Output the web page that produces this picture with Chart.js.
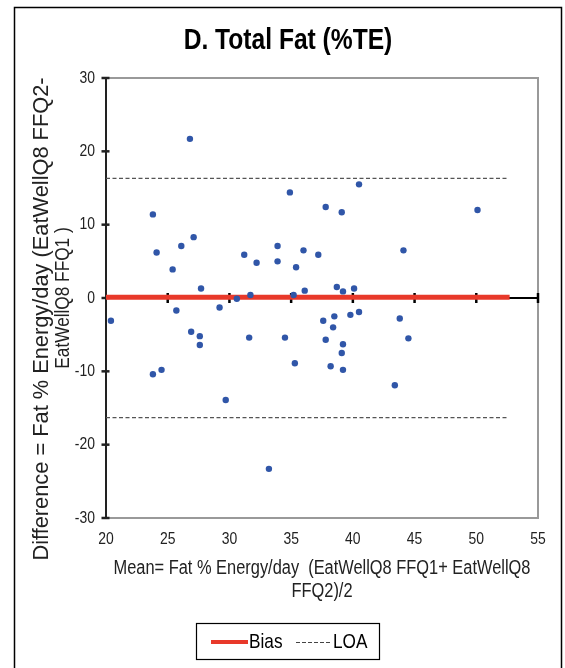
<!DOCTYPE html>
<html>
<head>
<meta charset="utf-8">
<script src="https://cdn.jsdelivr.net/npm/chart.js@4.4.1/dist/chart.umd.min.js"></script>
<style>
  html, body { margin: 0; padding: 0; background: #fff; }
  canvas { display: block; }
</style>
</head>
<body>
<canvas id="chart" width="565" height="668"></canvas>
<script>
// Bland-Altman data
const meanValues = [
  26.8, 23.8, 24.1, 25.4, 26.1, 27.1, 27.7, 30.6, 31.2, 31.7,
  32.2, 33.9, 33.9, 34.9, 35.2, 35.4, 36.0, 36.1, 37.2, 37.8,
  40.5, 39.1, 50.1, 44.1, 38.7, 39.2, 40.1,
  20.4, 25.7, 29.2, 26.9, 27.6, 27.6, 31.6, 34.5, 35.3, 23.8,
  24.5, 29.7, 33.2, 37.6, 37.8, 38.5, 38.4, 39.2, 39.1, 38.2,
  39.2, 39.8, 40.5, 43.8, 44.5, 43.4
];
const diffValues = [
  21.7, 11.4, 6.2, 3.9, 7.1, 8.3, 1.3, -0.1, 5.9, 0.4,
  4.8, 7.1, 5.0, 14.4, 0.4, 4.2, 6.5, 1.0, 5.9, 12.4,
  15.5, 11.7, 12.0, 6.5, 1.5, 0.9, 1.3,
  -3.1, -1.7, -1.3, -4.6, -5.2, -6.4, -5.4, -5.4, -8.9, -10.4,
  -9.8, -13.9, -23.3, -3.1, -5.7, -2.5, -4.0, -6.3, -7.5, -9.3,
  -9.8, -2.3, -1.9, -2.8, -5.5, -11.9
];
const biasValue = 0.1;
const loaUpper = 16.3;
const loaLower = -16.3;
const lineStartX = 20;
const biasEndX = 52.7;
const loaEndX = 52.6;
const xTicks = [20, 25, 30, 35, 40, 45, 50, 55];
const yTicks = [30, 20, 10, 0, -10, -20, -30];

const titleText = 'D. Total Fat (%TE)';
const xTitle = ['Mean= Fat % Energy/day  (EatWellQ8 FFQ1+ EatWellQ8', 'FFQ2)/2'];
const yTitle = ['Difference = Fat % Energy/day (EatWellQ8 FFQ2-', 'EatWellQ8 FFQ1 )'];

const FONT = '"Liberation Sans", Arial, sans-serif';
const NARROW = 0.82; // no Arial Narrow installed, squeeze Liberation Sans instead

// text squeezed along its baseline
function narrowText(ctx, text, x, y, squeeze) {
  ctx.save();
  ctx.translate(x, y);
  ctx.scale(squeeze, 1);
  ctx.fillText(text, 0, 0);
  ctx.restore();
}

// draws frame, axes, tick labels, titles and legend around the plot
const decorations = {
  id: 'decorations',
  beforeDatasetsDraw(chart) {
    const ctx = chart.ctx;
    const area = chart.chartArea;
    const xs = chart.scales.x;
    const ys = chart.scales.y;
    ctx.save();

    // outer figure border
    ctx.strokeStyle = '#000';
    ctx.lineWidth = 1.5;
    ctx.strokeRect(14.5, 7.5, 547, 700);

    // plot frame (top, right, bottom) in grey
    ctx.strokeStyle = '#999';
    ctx.lineWidth = 2;
    ctx.beginPath();
    ctx.moveTo(area.left, area.top);
    ctx.lineTo(area.right, area.top);
    ctx.lineTo(area.right, area.bottom);
    ctx.lineTo(area.left, area.bottom);
    ctx.stroke();

    // y axis
    ctx.strokeStyle = '#222';
    ctx.lineWidth = 2;
    ctx.beginPath();
    ctx.moveTo(area.left, area.top);
    ctx.lineTo(area.left, area.bottom);
    ctx.stroke();
    ctx.lineWidth = 2.5;
    yTicks.forEach(v => {
      const py = ys.getPixelForValue(v);
      ctx.beginPath();
      ctx.moveTo(area.left - 4.5, py);
      ctx.lineTo(area.left + 3.5, py);
      ctx.stroke();
    });

    // x axis crossing at zero
    const y0 = ys.getPixelForValue(0);
    ctx.strokeStyle = '#000';
    ctx.lineWidth = 2;
    ctx.beginPath();
    ctx.moveTo(area.left, y0);
    ctx.lineTo(area.right, y0);
    ctx.stroke();
    ctx.lineWidth = 2.5;
    xTicks.slice(1).forEach(v => {
      const px = xs.getPixelForValue(v);
      ctx.beginPath();
      ctx.moveTo(px, y0 - 5);
      ctx.lineTo(px, y0 + 5);
      ctx.stroke();
    });

    // tick labels
    ctx.fillStyle = '#222';
    ctx.font = '17px ' + FONT;
    ctx.textAlign = 'right';
    ctx.textBaseline = 'middle';
    yTicks.forEach(v => {
      narrowText(ctx, String(v), area.left - 11, ys.getPixelForValue(v), NARROW);
    });
    ctx.textAlign = 'center';
    xTicks.forEach(v => {
      narrowText(ctx, String(v), xs.getPixelForValue(v), 539, NARROW);
    });

    // chart title
    ctx.fillStyle = '#000';
    ctx.font = 'bold 30px ' + FONT;
    narrowText(ctx, titleText, 288, 41, NARROW);

    // x axis title
    ctx.fillStyle = '#222';
    ctx.font = '20px ' + FONT;
    narrowText(ctx, xTitle[0], 322, 568, NARROW);
    narrowText(ctx, xTitle[1], 322, 591, NARROW);

    // y axis title, rotated
    ctx.save();
    ctx.rotate(-Math.PI / 2);
    ctx.font = '21.8px ' + FONT;
    narrowText(ctx, yTitle[0], -319, 42, 1);
    ctx.font = '21px ' + FONT;
    narrowText(ctx, yTitle[1], -298, 63, NARROW);
    ctx.restore();

    // legend box
    ctx.strokeStyle = '#000';
    ctx.lineWidth = 1.2;
    ctx.strokeRect(196.5, 623.5, 183, 36);
    ctx.strokeStyle = '#E8392A';
    ctx.lineWidth = 4;
    ctx.beginPath();
    ctx.moveTo(211, 642);
    ctx.lineTo(248, 642);
    ctx.stroke();
    ctx.strokeStyle = '#444';
    ctx.lineWidth = 1;
    ctx.setLineDash([4, 2]);
    ctx.beginPath();
    ctx.moveTo(296, 642.5);
    ctx.lineTo(332, 642.5);
    ctx.stroke();
    ctx.setLineDash([]);
    ctx.fillStyle = '#000';
    ctx.font = '21px ' + FONT;
    ctx.textAlign = 'left';
    narrowText(ctx, 'Bias', 249, 642, NARROW);
    narrowText(ctx, 'LOA', 333, 642, NARROW);

    ctx.restore();
  }
};

new Chart(document.getElementById('chart'), {
  type: 'scatter',
  data: {
    datasets: [
      {
        label: 'Difference',
        data: meanValues.map((m, i) => ({ x: m, y: diffValues[i] })),
        backgroundColor: '#3056A8',
        borderWidth: 0,
        pointRadius: 3.2,
        order: 0
      },
      {
        label: 'Bias',
        type: 'line',
        data: [{ x: lineStartX, y: biasValue }, { x: biasEndX, y: biasValue }],
        borderColor: '#E8392A',
        borderWidth: 5,
        pointRadius: 0,
        order: 1
      },
      {
        label: 'LOA',
        type: 'line',
        data: [{ x: lineStartX, y: loaUpper }, { x: loaEndX, y: loaUpper }],
        borderColor: '#555',
        borderWidth: 1.3,
        borderDash: [4, 2.5],
        pointRadius: 0,
        order: 1
      },
      {
        label: 'LOA lower',
        type: 'line',
        data: [{ x: lineStartX, y: loaLower }, { x: loaEndX, y: loaLower }],
        borderColor: '#555',
        borderWidth: 1.3,
        borderDash: [4, 2.5],
        pointRadius: 0,
        order: 1
      }
    ]
  },
  options: {
    responsive: false,
    animation: false,
    layout: { padding: { left: 106, right: 27, top: 78, bottom: 150 } },
    scales: {
      x: { type: 'linear', min: 20, max: 55, display: false },
      y: { type: 'linear', min: -30, max: 30, display: false }
    },
    plugins: {
      legend: { display: false },
      tooltip: { enabled: false }
    }
  },
  plugins: [decorations]
});
</script>
</body>
</html>
